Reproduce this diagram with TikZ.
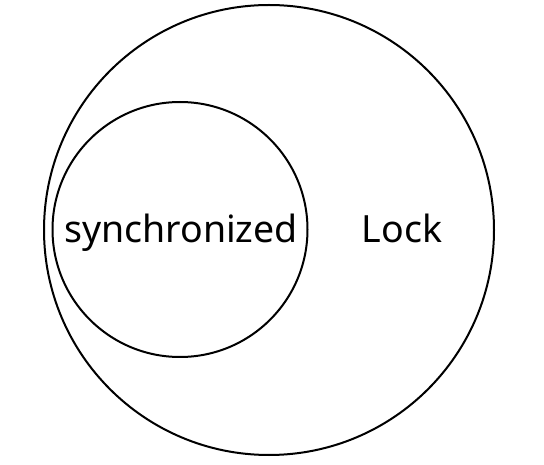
\documentclass[tikz,border=0pt]{standalone}
\usepackage{fontspec}
\setmainfont{Noto Sans}
\usepackage{tikz}
\newcommand{\ring}[4]{\node[draw, line width=2pt, circle, inner sep=0pt, minimum size=#4] (#1) at (#2, #3) {};}
\begin{document}
\begin{tikzpicture}[x=1pt, y=1pt]
    \useasboundingbox (0,0) rectangle (544,464);
    % circles
    \ring{lockset}{269}{234}{450pt}
    \ring{syncset}{180}{234.5}{255pt}
    % labels
    \node[anchor=base, font=\fontsize{37.5}{42}\selectfont, inner sep=0pt] (synclabel) at (181, 221) {synchronized};
    \node[anchor=base, font=\fontsize{37.5}{42}\selectfont, inner sep=0pt] (locklabel) at (402, 221) {Lock};
\end{tikzpicture}
\end{document}
